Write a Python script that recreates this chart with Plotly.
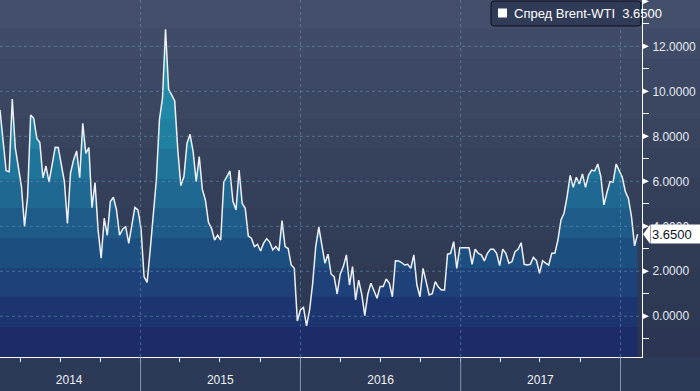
import plotly.graph_objects as go
import pandas as pd

# ---------------- data ----------------
SERIES_NAME = "Спред Brent-WTI"
LAST_VALUE = 3.65
END_DATE = "2018-02-09"

SPREAD = [
    # 2014
    9.17, 7.76, 6.47, 6.43, 9.66, 7.47, 6.65, 5.76, 3.99, 5.32, 8.95, 8.80,
    7.91, 7.72, 6.16, 6.68, 5.96, 6.80, 7.51, 7.50, 6.80, 5.99, 4.13, 6.36,
    6.95, 7.35, 6.16, 8.58, 7.24, 7.50, 4.83, 5.94, 3.84, 2.58,
    4.36, 3.60, 5.10, 5.29, 4.73, 3.61, 3.87, 3.99, 3.24, 4.13, 4.84, 4.73,
    3.91, 1.76, 1.51, 2.95, 4.50, 6.06, 8.73, 9.69, 12.76, 10.09, 9.84, 9.57,
    7.39, 5.81, 6.21, 7.69, 8.09, 7.32, 5.99, 7.10, 5.64, 5.17, 4.18, 3.91,
    # 2015
    3.39, 3.61, 3.39, 5.96, 6.21, 6.46, 5.10, 4.73, 6.50, 5.02, 4.80, 3.57,
    3.47, 3.10, 3.20, 2.90, 3.25, 3.45, 3.30, 2.95, 3.10, 2.91, 4.25, 3.10,
    3.01, 2.28, 2.13, -0.21, 0.28, 0.39, -0.43, 0.28, 1.47, 3.10,
    # 2016
    3.96, 3.10, 2.36, 2.76, 1.88, 1.76, 0.99, 1.88, 2.21, 2.73, 1.39, 2.21,
    0.73, 1.61, 0.99, 0.03, 0.99, 1.47, 1.10, 0.80, 1.32, 1.32, 1.66, 1.47,
    0.87, 2.47, 2.46, 2.39, 2.28, 2.31, 2.13, 2.73, 1.39,
    0.87, 2.13, 1.60, 0.95, 1.00, 1.54, 1.30, 1.17, 1.17, 2.76, 2.80, 3.32,
    2.13, 3.05, 3.05, 3.05, 3.05, 2.31, 2.98, 2.80, 2.73, 2.46, 2.80, 2.98,
    2.98, 2.80, 2.25, 2.98, 2.80, 2.36, 2.43, 2.87, 2.98, 3.27,
    # 2017 - 2018
    2.31, 2.28, 2.31, 2.62, 2.47, 1.91, 2.47, 2.36, 2.28, 2.80, 2.80, 3.39,
    4.28, 4.58, 5.32, 6.27, 5.73, 6.18, 5.88, 6.33, 5.73, 6.28, 6.50, 6.46,
    6.77, 6.21, 4.95, 5.50, 5.99, 5.96, 6.77, 6.47, 6.18, 5.54, 5.24, 4.43,
    3.13, 3.65,
]
DATES = pd.date_range(end=END_DATE, periods=len(SPREAD), freq="7D")

Y_TICKS = [0, 2, 4, 6, 8, 10, 12, 14]
Y_TICK_TEXT = ["0.0000", "2.0000", "4.0000", "6.0000", "8.0000", "10.0000", "12.0000", ""]
Y_MINOR = [-1, 1, 3, 5, 7, 9, 11, 13]
YEAR_LABELS = ["2014", "2015", "2016", "2017"]
YEAR_LABEL_DATES = ["2014-07-22", "2015-07-02", "2016-07-02", "2017-07-02"]
YEAR_BOUNDS = ["2015-01-01", "2016-01-01", "2017-01-01", "2018-01-01"]

# ---------------- style ----------------
Y_MIN, Y_MAX = -1.81, 14.06
X_RANGE = ["2014-02-14", "2018-02-19"]
W, H = 700, 391
ML, MR, MT, MB = 0, 58, 0, 34
PW, PH = W - ML - MR, H - MT - MB
FONT = "Liberation Sans, Arial, sans-serif"
GRID = "rgba(105,155,180,0.55)"


def hex2rgb(h):
    h = h.lstrip("#")
    return tuple(int(h[i:i + 2], 16) for i in (0, 2, 4))


def interp(anchors, t):
    for (t0, c0), (t1, c1) in zip(anchors[:-1], anchors[1:]):
        if t0 <= t <= t1:
            f = (t - t0) / (t1 - t0) if t1 > t0 else 0
            a, b = hex2rgb(c0), hex2rgb(c1)
            return "rgb(%d,%d,%d)" % tuple(round(a[i] + (b[i] - a[i]) * f) for i in range(3))
    return anchors[-1][1] if t > anchors[-1][0] else anchors[0][1]


# fill gradient (0 = bottom, 1 = top), banded
FILL_ANCH = [(0.0, "#1a2866"), (0.12, "#1c3470"), (0.25, "#1d477c"), (0.38, "#1e5c8a"),
             (0.50, "#1f6e95"), (0.62, "#207fa0"), (0.75, "#218eab"), (1.0, "#249cb8")]
NB = 12
fill_cs = []
for i in range(NB):
    c = interp(FILL_ANCH, (i + 0.5) / NB)
    fill_cs.append([i / NB, c])
    fill_cs.append([(i + 1) / NB, c])

BG_ANCH = [(0.0, "#2b3551"), (0.3, "#303b56"), (0.6, "#37425d"), (1.0, "#44506b")]

fig = go.Figure()

# baseline for the area (bottom of the plot)
fig.add_trace(go.Scatter(x=[DATES[0], DATES[-1]], y=[Y_MIN, Y_MIN], mode="lines",
                         line=dict(width=0), hoverinfo="skip", showlegend=False))
fig.add_trace(go.Scatter(
    x=DATES, y=SPREAD, mode="lines", name=SERIES_NAME,
    line=dict(color="#eef1f6", width=1.5),
    fill="tonexty",
    fillgradient=dict(type="vertical", start=Y_MIN, stop=Y_MAX, colorscale=fill_cs),
    showlegend=False,
))

shapes = []
# background bands (plot + right margin)
NBG = 12
for i in range(NBG):
    shapes.append(dict(type="rect", xref="paper", yref="paper", layer="below",
                       x0=0, x1=W / PW, y0=i / NBG, y1=(i + 1) / NBG,
                       fillcolor=interp(BG_ANCH, (i + 0.5) / NBG), line=dict(width=0)))
# horizontal grid
for v in Y_TICKS[:-1]:
    shapes.append(dict(type="line", xref="paper", yref="y", layer="above",
                       x0=0, x1=1, y0=v, y1=v, line=dict(color=GRID, width=1, dash="3px,3px")))
# vertical grid + year separators
for d in YEAR_BOUNDS:
    shapes.append(dict(type="line", xref="x", yref="paper", layer="above",
                       x0=d, x1=d, y0=0, y1=1, line=dict(color=GRID, width=1, dash="3px,3px")))
    shapes.append(dict(type="line", xref="x", yref="paper", layer="above",
                       x0=d, x1=d, y0=-MB / PH, y1=0, line=dict(color="#8a95ab", width=1)))
# triangular tick markers on the y axis
dy = 3.2 * (Y_MAX - Y_MIN) / PH
tx = 7 / PW
for v in Y_TICKS:
    shapes.append(dict(type="path", xref="paper", yref="y", layer="above",
                       path=f"M 1,{v + dy} L 1,{v - dy} L {1 + tx},{v} Z",
                       fillcolor="white", line=dict(width=0)))
# last value marker arrow
ady = 9.5 * (Y_MAX - Y_MIN) / PH
shapes.append(dict(type="path", xref="paper", yref="y", layer="above",
                   path=f"M {1 + 1 / PW},{LAST_VALUE} L {1 + 8 / PW},{LAST_VALUE + ady} "
                        f"L {1 + 8 / PW},{LAST_VALUE - ady} Z",
                   fillcolor="white", line=dict(width=0)))

# legend box (rounded) + square
lx0, lx1, ly0, ly1, r = 491, 641, 1, 26, 3


def px(x):
    return x / PW


def py(y):
    return 1 - y / PH


legend_path = (f"M {px(lx0 + r)},{py(ly0)} L {px(lx1 - r)},{py(ly0)} "
               f"Q {px(lx1)},{py(ly0)} {px(lx1)},{py(ly0 + r)} "
               f"L {px(lx1)},{py(ly1 - r)} Q {px(lx1)},{py(ly1)} {px(lx1 - r)},{py(ly1)} "
               f"L {px(lx0 + r)},{py(ly1)} Q {px(lx0)},{py(ly1)} {px(lx0)},{py(ly1 - r)} "
               f"L {px(lx0)},{py(ly0 + r)} Q {px(lx0)},{py(ly0)} {px(lx0 + r)},{py(ly0)} Z")
shapes.append(dict(type="path", xref="paper", yref="paper", layer="above", path=legend_path,
                   fillcolor="#303b57", line=dict(color="#0a0f18", width=1)))
shapes.append(dict(type="rect", xref="paper", yref="paper", layer="above",
                   x0=px(498), x1=px(507), y0=py(17.5), y1=py(8.5),
                   fillcolor="white", line=dict(width=0)))

annotations = [
    dict(xref="paper", yref="y", x=1, y=LAST_VALUE, xanchor="left", yanchor="middle",
         xshift=8, text=f"{LAST_VALUE:.4f}", showarrow=False, bgcolor="white",
         font=dict(family=FONT, size=13, color="#0b1526"), borderpad=1, width=50, height=16,
         align="left"),
    dict(xref="paper", yref="paper", x=px(512), y=py(13.5), xanchor="left", yanchor="middle",
         text=f"{SERIES_NAME}\u00a0\u00a0{LAST_VALUE:.4f}", showarrow=False,
         font=dict(family=FONT, size=13, color="white")),
]

fig.update_layout(
    width=W, height=H,
    margin=dict(l=ML, r=MR, t=MT, b=MB, pad=0),
    paper_bgcolor="#2c3957",
    plot_bgcolor="rgba(0,0,0,0)",
    showlegend=False,
    hovermode=False,
    shapes=shapes,
    annotations=annotations,
    xaxis=dict(
        range=X_RANGE, type="date",
        showgrid=False, zeroline=False,
        showline=True, linecolor="white", linewidth=1,
        tickvals=YEAR_LABEL_DATES, ticktext=YEAR_LABELS,
        ticks="", ticklabelstandoff=12,
        tickfont=dict(family=FONT, size=12, color="#eef2f8"),
        minor=dict(ticks="outside", ticklen=4, tickcolor="white", tickwidth=1,
                   dtick="M3", tick0="2014-01-01", showgrid=False),
        layer="above traces",
    ),
    yaxis=dict(
        range=[Y_MIN, Y_MAX], side="right",
        showgrid=False, zeroline=False,
        showline=True, linecolor="white", linewidth=1,
        tickvals=Y_TICKS, ticktext=Y_TICK_TEXT,
        ticks="outside", ticklen=7, tickcolor="rgba(0,0,0,0)",
        tickfont=dict(family=FONT, size=12, color="#e4eaf4"),
        minor=dict(tickvals=Y_MINOR, ticks="outside", ticklen=6, tickcolor="white",
                   tickwidth=1, showgrid=False),
        layer="above traces",
    ),
)

fig.write_html("out.html",
               config={"displayModeBar": False, "staticPlot": True},
               post_script="document.body.style.margin='0';document.body.style.overflow='hidden';")
